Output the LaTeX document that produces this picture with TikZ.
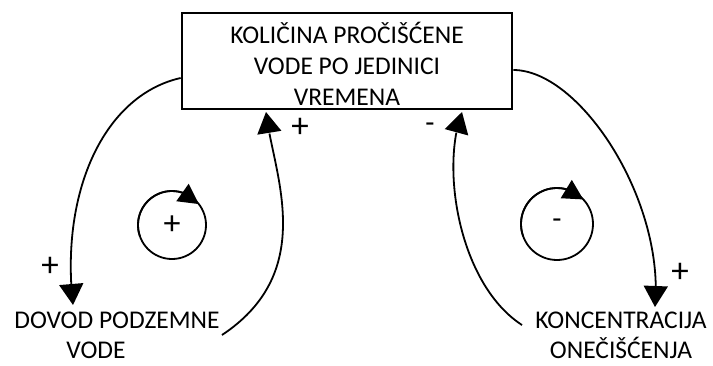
\documentclass[tikz,border=0pt]{standalone}
\usepackage{fontspec}
\setmainfont{Carlito}
\usetikzlibrary{arrows.meta,bending,calc}
\begin{document}
\begin{tikzpicture}[x=1pt,y=-1pt,
  txt/.style={font=\fontsize{25.5}{30}\selectfont, align=center, inner sep=0pt},
  varbox/.style={draw, line width=2.7pt, minimum width=330pt, minimum height=96pt, inner sep=0pt, font=\fontsize{25.5}{31}\selectfont, align=center},
  link/.style={line width=1.8pt, -{Triangle[length=21pt,width=24pt]}},
  loopc/.style={circle, draw, line width=1.8pt, minimum size=#1, inner sep=0pt, outer sep=0pt, font=\fontsize{34}{34}\selectfont},
  looparrow/.style={line width=1.8pt, -{Triangle[length=20pt,width=21pt]}},
  pol/.style={font=\fontsize{35}{35}\selectfont, inner sep=0pt},
  neg/.style={font=\fontsize{30}{30}\selectfont, inner sep=0pt}]
\useasboundingbox (0,0) rectangle (713,365);
\node[varbox] (box) at (347,61) {\rule{0pt}{26pt}KOLIČINA PROČIŠĆENE\\VODE PO JEDINICI\\VREMENA};
\node[txt] (dovod) at (117,335) {DOVOD PODZEMNE\\\hspace*{-42pt}VODE};
\node[txt] (konc) at (621,335) {KONCENTRACIJA\\ONEČIŠĆENJA};
\coordinate (a0) at ($(box.west)+(0,17)$);
\coordinate (a1) at (73,305);
\coordinate (b0) at (222,335);
\coordinate (b1) at (266,112);
\coordinate (c0) at ($(box.east)+(0,9)$);
\coordinate (c1) at (655,307);
\coordinate (d0) at (522,325);
\coordinate (d1) at (462,112);
\draw[link] (a0) .. controls (105,95) and (60,190) .. (a1);
\draw[link] (b0) .. controls (320,270) and (272,170) .. (b1);
\draw[link] (c0) .. controls (580,70) and (665,200) .. (c1);
\draw[link] (d0) .. controls (460,285) and (440,170) .. (d1);
\node[pol] (p1) at (300,128) {+};
\node[neg] (p2) at (430,128) {-};
\node[pol] (p3) at (50,267) {+};
\node[pol] (p4) at (680,273) {+};
\node[loopc=68pt] (loopL) at (172,225) {+};
\node[loopc=72pt,neg] (loopR) at (557,224) {-};
\draw[looparrow] (loopL.200) arc[start angle=200, end angle=38, radius=34pt];
\draw[looparrow] (loopR.200) arc[start angle=200, end angle=43, radius=36pt];
\end{tikzpicture}
\end{document}
